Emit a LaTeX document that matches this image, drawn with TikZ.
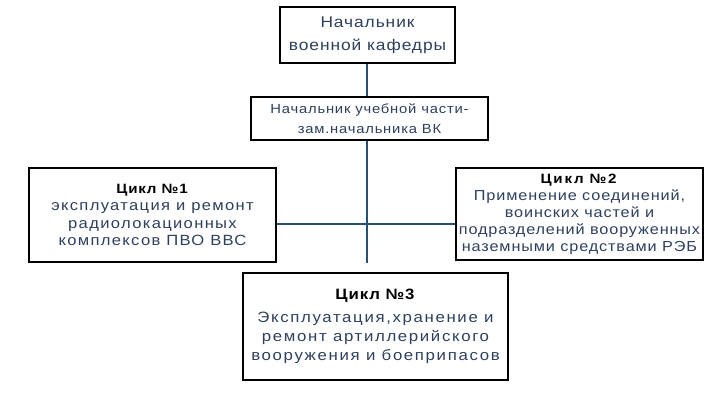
\documentclass[tikz,border=0pt]{standalone}
\usepackage{fontspec}
\setmainfont{Liberation Sans}[FakeStretch=1.12,LetterSpace=6]
\definecolor{txt}{HTML}{2E405E}
\definecolor{ln}{HTML}{24507A}
\newcommand{\wide}[1]{\addfontfeatures{LetterSpace=#1}}
\begin{document}
\begin{tikzpicture}[x=1pt,y=-1pt,
  box/.style={draw=black,line width=1.8pt,fill=white,align=center,inner sep=0pt,text=txt},
  conn/.style={draw=ln,line width=1.3pt}]
\fill[white] (0,0) rectangle (722,404);
\useasboundingbox (0,0) rectangle (722,404);
\node[box,minimum width=175pt,minimum height=56pt,font=\fontsize{15.5}{23}\selectfont] (top) at (367.5,35) {Начальник\\военной кафедры};
\node[box,minimum width=237pt,minimum height=43pt,font=\fontsize{13.2}{19.5}\selectfont] (sub) at (369.5,118.5) {Начальник учебной части-\\зам.начальника ВК};
\node[box,minimum width=247pt,minimum height=94pt,font=\fontsize{14.8}{17.5}\selectfont\wide{9}] (c1) at (152.5,215) {\textcolor{black}{\fontsize{13.5}{17.5}\selectfont\wide{6}\textbf{Цикл №1}}\\эксплуатация и ремонт\\радиолокационных\\комплексов ПВО ВВС};
\node[box,minimum width=247pt,minimum height=92pt,font=\fontsize{14.5}{17}\selectfont] (c2) at (579.5,214) {\textcolor{black}{\fontsize{13.5}{17}\selectfont\wide{13}\textbf{Цикл №2}}\\Применение соединений,\\воинских частей и\\подразделений вооруженных\\наземными средствами РЭБ};
\node[box,minimum width=265pt,minimum height=107pt,font=\fontsize{15}{19}\selectfont\wide{11}] (c3) at (375.5,326.5) {\textcolor{black}{\wide{6}\textbf{Цикл №3}}\\[4pt]Эксплуатация,хранение и\\ремонт артиллерийского\\вооружения и боеприпасов};
\coordinate (hub) at (367,224);
\coordinate (end) at (367,263);
\draw[conn] (top.south -| hub) -- (sub.north -| hub);
\draw[conn] (sub.south -| hub) -- (end);
\draw[conn] (c1.east |- hub) -- (c2.west |- hub);
\end{tikzpicture}
\end{document}
